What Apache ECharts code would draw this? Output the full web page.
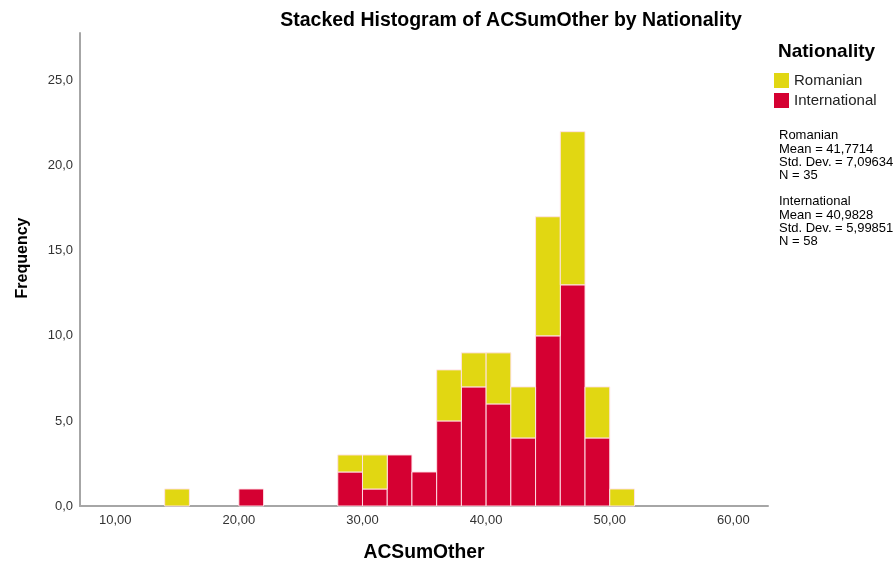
<!DOCTYPE html>
<html>
<head>
<meta charset="utf-8">
<script src="https://cdn.jsdelivr.net/npm/echarts@6/dist/echarts.min.js"></script>
<style>html,body{margin:0;padding:0;background:#fff}#c{width:895px;height:567px}</style>
</head>
<body>
<div id="c"></div>
<script>
// Bin starts (bin width 2)
const binStarts = [14, 20, 28, 30, 32, 34, 36, 38, 40, 42, 44, 46, 48, 50];
const binWidth = 2;
const romanian = [1, 0, 1, 2, 0, 0, 3, 2, 3, 3, 7, 9, 3, 1];
const international = [0, 1, 2, 1, 3, 2, 5, 7, 6, 4, 10, 13, 4, 0];
const xTicks = [10, 20, 30, 40, 50, 60];
const yTicks = [0, 5, 10, 15, 20, 25];
const seriesNames = ['Romanian', 'International'];
const statsRomanian = ['Romanian', 'Mean = 41,7714', 'Std. Dev. = 7,09634', 'N = 35'];
const statsInternational = ['International', 'Mean = 40,9828', 'Std. Dev. = 5,99851', 'N = 58'];

const colors = { Romanian: '#e1d712', International: '#d50032' };
const FONT = '"Liberation Sans", Arial, sans-serif';

const intlData = [], romData = [];
binStarts.forEach((s, i) => {
  if (international[i] > 0) intlData.push([s, s + binWidth, 0, international[i]]);
  if (romanian[i] > 0) romData.push([s, s + binWidth, international[i], international[i] + romanian[i]]);
});

function renderItem(params, api) {
  const p0 = api.coord([api.value(0), api.value(2)]);
  const p1 = api.coord([api.value(1), api.value(3)]);
  return {
    type: 'rect',
    shape: { x: p0[0], y: p1[1], width: p1[0] - p0[0], height: p0[1] - p1[1] },
    style: { fill: api.visual('color'), stroke: 'rgba(255,225,232,0.95)', lineWidth: 1 }
  };
}

const chart = echarts.init(document.getElementById('c'), null, { renderer: 'canvas' });
chart.setOption({
  animation: false,
  textStyle: { fontFamily: FONT },
  title: {
    text: 'Stacked Histogram of ACSumOther by Nationality',
    left: 506, top: 6, textAlign: 'center',
    textStyle: { fontFamily: FONT, fontSize: 19.5, fontWeight: 'bold', color: '#000' }
  },
  grid: { left: 80, right: 127, top: 33, bottom: 52, containLabel: false },
  legend: {
    orient: 'vertical', left: 774, top: 73, padding: 0, itemWidth: 15, itemHeight: 15, itemGap: 5,
    icon: 'rect', data: seriesNames,
    textStyle: { fontFamily: FONT, fontSize: 15, color: '#222', padding: [4, 0, 0, 0] }
  },
  xAxis: {
    type: 'value', min: 7.15, max: 62.8,
    name: 'ACSumOther', nameLocation: 'middle', nameGap: 37,
    nameTextStyle: { fontFamily: FONT, fontSize: 19.3, fontWeight: 'bold', color: '#000' },
    axisLine: { show: true, lineStyle: { color: '#a6a6a6', width: 2 } },
    axisTick: { show: false },
    splitLine: { show: false },
    axisLabel: {
      customValues: xTicks, margin: 8, fontSize: 13, color: '#333',
      formatter: v => v.toFixed(2).replace('.', ',')
    }
  },
  yAxis: {
    type: 'value', min: 0, max: 27.8,
    axisLine: { show: true, lineStyle: { color: '#a6a6a6', width: 2 } },
    axisTick: { show: false },
    splitLine: { show: false },
    axisLabel: {
      customValues: yTicks, margin: 7, fontSize: 13, color: '#333',
      formatter: v => v.toFixed(1).replace('.', ',')
    }
  },
  graphic: [
    { type: 'text', x: 23, y: 258, rotation: Math.PI / 2,
      style: { text: 'Frequency', font: 'bold 16px ' + FONT, fill: '#000', align: 'center', verticalAlign: 'middle' } },
    { type: 'text', left: 778, top: 42, style: { text: 'Nationality', font: 'bold 19px ' + FONT, fill: '#000' } },
    { type: 'text', left: 779, top: 129, style: { text: statsRomanian.join('\n'), font: '13px ' + FONT, lineHeight: 13.4, fill: '#000' } },
    { type: 'text', left: 779, top: 195, style: { text: statsInternational.join('\n'), font: '13px ' + FONT, lineHeight: 13.4, fill: '#000' } }
  ],
  series: [
    { name: 'International', type: 'custom', renderItem, data: intlData, encode: { x: [0, 1], y: [2, 3] }, itemStyle: { color: colors.International } },
    { name: 'Romanian', type: 'custom', renderItem, data: romData, encode: { x: [0, 1], y: [2, 3] }, itemStyle: { color: colors.Romanian } }
  ]
});
</script>
</body>
</html>
